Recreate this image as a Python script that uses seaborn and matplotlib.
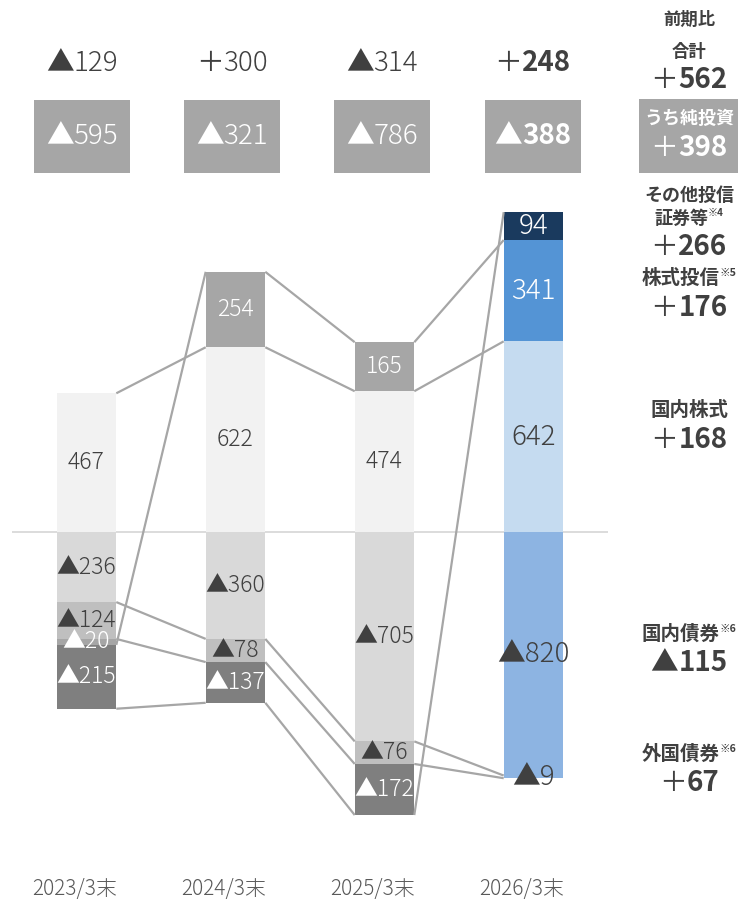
import matplotlib
matplotlib.use("Agg")
import matplotlib.pyplot as plt
import seaborn as sns
import numpy as np
from matplotlib.patches import Rectangle

sns.set_theme(style="white")
plt.rcParams['font.family'] = ['Noto Sans CJK JP', 'DejaVu Sans']

# ---- data -------------------------------------------------------------
periods = ["2023/3末", "2024/3末", "2025/3末", "2026/3末"]
series_names = ["国内株式", "国内債券", "外国債券", "株式投信", "その他投信証券等"]
domestic_equity = [467, 622, 474, 642]
domestic_bonds = [-236, -360, -705, -820]
foreign_bonds = [-124, -78, -76, -9]
equity_funds = [-20, 254, 165, 341]
other_funds = [-215, -137, -172, 94]

total_labels = ["▲129", "＋300", "▲314", "＋248"]
net_invest_labels = ["▲595", "▲321", "▲786", "▲388"]

# colours: grey for actuals, blue for the plan year
grey_colors = ["#f2f2f2", "#d9d9d9", "#bfbfbf", "#a6a6a6", "#7f7f7f"]
plan_colors = ["#c5dbf0", "#8db4e2", "#8db4e2", "#5494d5", "#1a3a5e"]
grey_text = ["#404040", "#404040", "#404040", "white", "white"]
plan_text = ["#404040", "#404040", "#404040", "white", "white"]

values = [domestic_equity, domestic_bonds, foreign_bonds, equity_funds, other_funds]

W, H = 746, 905
DARK = "#404040"

fig = plt.figure(figsize=(W / 100, H / 100), dpi=100)
fig.patch.set_facecolor("white")

zero_px = 532
scale = 0.297  # px per unit
ax = fig.add_axes([12 / W, 0, 596 / W, 1])
ax.set_facecolor("none")

def fx(px):
    return px / W

def fy(py):
    return 1 - py / H

# ---- stacked bars ----------------------------------------------------
pos_base = np.zeros(len(periods))
neg_base = np.zeros(len(periods))
ends = []
bar_width = 0.4
for k, vals in enumerate(values):
    vals = np.array(vals, dtype=float)
    bottoms = np.where(vals >= 0, pos_base, neg_base)
    n_before = len(ax.patches)
    sns.barplot(x=periods, y=vals, bottom=bottoms, color=grey_colors[k],
                saturation=1, width=bar_width, errorbar=None, linewidth=0, ax=ax)
    new = ax.patches[n_before:]
    new[-1].set_facecolor(plan_colors[k])
    top = bottoms + vals
    ends.append(top)
    for i, v in enumerate(vals):
        centre = bottoms[i] + v / 2
        plan = i == len(periods) - 1
        txt = (f"{int(v)}" if v >= 0 else f"▲{int(-v)}")
        ax.text(i, centre, txt, ha="center", va="center",
                fontsize=20 if plan else 16.5, fontweight="light",
                color=(plan_text if plan else grey_text)[k], zorder=5)
    pos_base = np.where(vals >= 0, top, pos_base)
    neg_base = np.where(vals < 0, top, neg_base)

# series lines joining each series' end between neighbouring bars
for e in ends:
    for i in range(len(periods) - 1):
        ax.plot([i + bar_width / 2, i + 1 - bar_width / 2], [e[i], e[i + 1]],
                color="#a6a6a6", lw=1.6, zorder=4, solid_capstyle="butt")

ax.axhline(0, color="#d9d9d9", lw=1.3, zorder=0)
ax.set_xlim(-0.5, 3.5)
ax.set_ylim(-(H - zero_px) / scale, zero_px / scale)
ax.axis("off")

# period labels under the bars
for i, p in enumerate(periods):
    ax.text(i - 12 / 149, -(889 - zero_px) / scale, p, ha="center", va="center",
            fontsize=15, fontweight="light", color="#595959")

renderer = fig.canvas.get_renderer()

def pair_text(xc, yc, sign, num, size, color, num_weight="bold", sign_weight="normal"):
    """Draw a sign and a number side by side, centred on xc (pixels)."""
    t1 = fig.text(0, fy(yc), sign, fontsize=size, color=color,
                  fontweight=sign_weight, ha="left", va="center")
    t2 = fig.text(0, fy(yc), num, fontsize=size, color=color,
                  fontweight=num_weight, ha="left", va="center")
    w1 = t1.get_window_extent(renderer).width
    w2 = t2.get_window_extent(renderer).width
    x0 = xc - (w1 + w2) / 2
    t1.set_x(fx(x0))
    t2.set_x(fx(x0 + w1))

def sup_text(xc, yc, main, sup, size, color):
    """Heading with a small raised note mark."""
    t1 = fig.text(0, fy(yc), main, fontsize=size, color=color,
                  fontweight="bold", ha="left", va="center")
    t2 = fig.text(0, fy(yc - 5), sup, fontsize=size * 0.55, color=color,
                  fontweight="bold", ha="left", va="center")
    w1 = t1.get_window_extent(renderer).width
    w2 = t2.get_window_extent(renderer).width
    x0 = xc - (w1 + w2) / 2
    t1.set_x(fx(x0))
    t2.set_x(fx(x0 + w1))

# ---- totals and net investment boxes above the bars ---------------------
col_px = [82, 232, 382, 533]
for i in range(len(periods)):
    lab = total_labels[i]
    plan = i == len(periods) - 1
    pair_text(col_px[i], 63, lab[0], lab[1:], 20, DARK,
              num_weight="bold" if plan else "light",
              sign_weight="normal" if lab[0] == "＋" else "light")
    fig.patches.append(Rectangle((fx(col_px[i] - 48), fy(173)), 96 / W, 73 / H,
                                 transform=fig.transFigure, facecolor="#a6a6a6",
                                 edgecolor="none"))
    nl = net_invest_labels[i]
    pair_text(col_px[i], 136, nl[0], nl[1:], 20, "white",
              num_weight="bold" if plan else "light", sign_weight="light")

# ---- change summary on the right --------------------------------------
rx = 689
fig.text(fx(rx), fy(20), "前期比", ha="center", va="center", fontsize=12.5,
         fontweight="bold", color=DARK)
fig.text(fx(rx), fy(52), "合計", ha="center", va="center", fontsize=12.5,
         fontweight="bold", color=DARK)
pair_text(rx, 80, "＋", "562", 20, DARK)
fig.patches.append(Rectangle((fx(639), fy(173)), 99 / W, 74 / H,
                             transform=fig.transFigure, facecolor="#a6a6a6",
                             edgecolor="none"))
fig.text(fx(rx), fy(118), "うち純投資", ha="center", va="center", fontsize=13,
         fontweight="bold", color="white")
pair_text(rx, 148, "＋", "398", 20, "white")

fig.text(fx(rx), fy(195), "その他投信", ha="center", va="center", fontsize=13,
         fontweight="bold", color=DARK)
sup_text(rx, 218, "証券等", "※4", 13, DARK)
pair_text(rx, 247, "＋", "266", 20, DARK)

sup_text(rx, 278, "株式投信", "※5", 14, DARK)
pair_text(rx, 308, "＋", "176", 20, DARK)

fig.text(fx(rx), fy(410), "国内株式", ha="center", va="center", fontsize=14,
         fontweight="bold", color=DARK)
pair_text(rx, 440, "＋", "168", 20, DARK)

sup_text(rx, 634, "国内債券", "※6", 14, DARK)
pair_text(rx, 663, "▲", "115", 20, DARK)

sup_text(rx, 754, "外国債券", "※6", 14, DARK)
pair_text(rx, 783, "＋", "67", 20, DARK)

fig.savefig("out.png", dpi=100, facecolor="white")
